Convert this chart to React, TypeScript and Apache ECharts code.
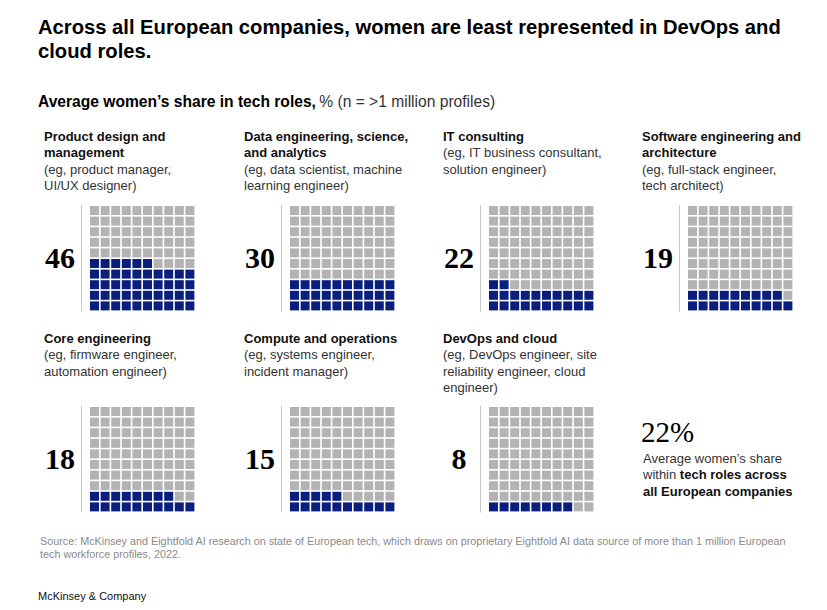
import React, { useEffect, useRef } from "react";
import * as echarts from "echarts";

const titleLines: string[][] = [
  ["Product design and", "management"],
  ["Data engineering, science,", "and analytics"],
  ["IT consulting"],
  ["Software engineering and", "architecture"],
  ["Core engineering"],
  ["Compute and operations"],
  ["DevOps and cloud"],
];
const exampleLines: string[][] = [
  ["(eg, product manager,", "UI/UX designer)"],
  ["(eg, data scientist, machine", "learning engineer)"],
  ["(eg, IT business consultant,", "solution engineer)"],
  ["(eg, full-stack engineer,", "tech architect)"],
  ["(eg, firmware engineer,", "automation engineer)"],
  ["(eg, systems engineer,", "incident manager)"],
  ["(eg, DevOps engineer, site", "reliability engineer, cloud", "engineer)"],
];
const values: number[] = [46, 30, 22, 19, 18, 15, 8];
const averageShare = 22;

const NAVY = "#0a1f7d";
const GRAY = "#b3b3b3";
const SANS = '"Liberation Sans", Arial, sans-serif';
const SERIF = '"Liberation Serif", "Times New Roman", serif';

const colX = [44, 244, 443, 642];
const titleTop = [130, 332];
const gridTop = [206, 407];
const GRID_W = 106;

function cells(v: number): number[][] {
  const out: number[][] = [];
  for (let i = 0; i < 100; i++) {
    out.push([i % 10, Math.floor(i / 10), i < v ? 1 : 0]);
  }
  return out;
}

export default function App() {
  const ref = useRef<HTMLDivElement>(null);
  useEffect(() => {
    if (!ref.current) return;
    const chart = echarts.init(ref.current, undefined, { renderer: "svg" });
    const grids: any[] = [];
    const xAxes: any[] = [];
    const yAxes: any[] = [];
    const series: any[] = [];
    const graphics: any[] = [];

    values.forEach((v, i) => {
      const col = i % 4;
      const row = Math.floor(i / 4);
      const left = colX[col] + 45.2;
      grids.push({ left, top: gridTop[row] - 0.8, width: GRID_W, height: GRID_W });
      xAxes.push({ type: "value", gridIndex: i, min: 0, max: 10, show: false });
      yAxes.push({
        type: "value",
        gridIndex: i,
        min: 0,
        max: 10,
        position: "left",
        offset: 8.2,
        axisLine: { show: true, onZero: false, lineStyle: { color: "#c8c8c8", width: 1 } },
        axisTick: { show: false },
        axisLabel: { show: false },
        splitLine: { show: false },
      });
      series.push({
        type: "custom",
        xAxisIndex: i,
        yAxisIndex: i,
        data: cells(v),
        encode: { x: 0, y: 1 },
        renderItem: (params: any, api: any) => {
          const c = api.value(0);
          const r = api.value(1);
          const f = api.value(2);
          const tl = api.coord([c, r + 1]);
          const br = api.coord([c + 1, r]);
          const g = 1.6;
          return {
            type: "rect",
            shape: {
              x: tl[0] + g / 2,
              y: tl[1] + g / 2,
              width: br[0] - tl[0] - g,
              height: br[1] - tl[1] - g,
            },
            style: { fill: f ? NAVY : GRAY },
          };
        },
      });
      const txt =
        titleLines[i].map((l) => `{b|${l}}`).join("\n") +
        "\n" +
        exampleLines[i].map((l) => `{n|${l}}`).join("\n");
      graphics.push({
        type: "text",
        left: colX[col],
        top: titleTop[row],
        style: {
          text: txt,
          rich: {
            b: { fontFamily: SANS, fontSize: 13, fontWeight: "bold", fill: "#111", lineHeight: 16.3 },
            n: { fontFamily: SANS, fontSize: 13, fill: "#333", lineHeight: 16.3 },
          },
        },
      });
      graphics.push({
        type: "text",
        x: colX[col] + 16,
        y: gridTop[row] + 51.5,
        style: {
          text: String(v),
          font: `bold 30px ${SERIF}`,
          fill: "#000",
          align: "center",
          verticalAlign: "middle",
        },
      });
    });

    graphics.push(
      {
        type: "text",
        left: 38,
        top: 15,
        style: {
          text: "Across all European companies, women are least represented in DevOps and\ncloud roles.",
          font: `bold 20.2px ${SANS}`,
          fill: "#000",
          lineHeight: 24,
        },
      },
      {
        type: "text",
        left: 38,
        top: 93,
        style: {
          text: "{b|Average women’s share in tech roles,} {n|% (n = >1 million profiles)}",
          rich: {
            b: { fontFamily: SANS, fontSize: 15.6, fontWeight: "bold", fill: "#000" },
            n: { fontFamily: SANS, fontSize: 15.6, fill: "#333" },
          },
        },
      },
      {
        type: "text",
        x: 641,
        y: 432,
        style: {
          text: `${averageShare}%`,
          font: `normal 29px ${SERIF}`,
          fill: "#000",
          verticalAlign: "middle",
        },
      },
      {
        type: "text",
        left: 643,
        top: 452,
        style: {
          text: "{n|Average women’s share}\n{n|within }{b|tech roles across}\n{b|all European companies}",
          rich: {
            b: { fontFamily: SANS, fontSize: 13, fontWeight: "bold", fill: "#111", lineHeight: 16.3 },
            n: { fontFamily: SANS, fontSize: 13, fill: "#333", lineHeight: 16.3 },
          },
        },
      },
      {
        type: "text",
        left: 40,
        top: 535,
        style: {
          text:
            "Source: McKinsey and Eightfold AI research on state of European tech, which draws on proprietary Eightfold AI data source of more than 1 million European\ntech workforce profiles, 2022.",
          font: `normal 10.8px ${SANS}`,
          fill: "#8a8a8a",
          lineHeight: 12.5,
        },
      },
      {
        type: "text",
        left: 38,
        top: 590,
        style: {
          text: "McKinsey & Company",
          font: `normal 11px ${SANS}`,
          fill: "#111",
        },
      }
    );

    chart.setOption({
      animation: false,
      backgroundColor: "#ffffff",
      grid: grids,
      xAxis: xAxes,
      yAxis: yAxes,
      series,
      graphic: graphics,
    });
    return () => chart.dispose();
  }, []);
  return (
    <div
      ref={ref}
      style={{ position: "fixed", left: 0, top: 0, width: 827, height: 610 }}
    />
  );
}
